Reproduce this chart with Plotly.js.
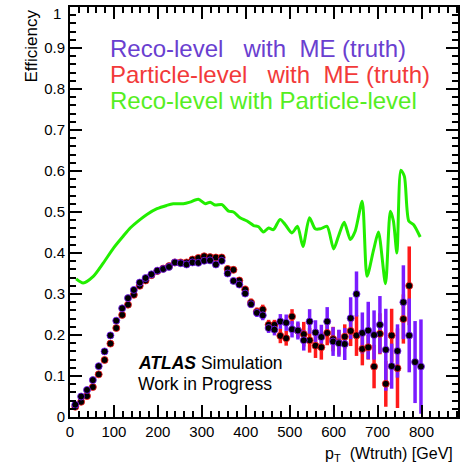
<!DOCTYPE html>
<html>
<head>
<meta charset="utf-8">
<script src="https://cdn.plot.ly/plotly-3.0.1.min.js"></script>
<style>html,body{margin:0;padding:0;background:#fff;}#chart{width:469px;height:471px;}</style>
</head>
<body>
<div id="chart"></div>
<script>
// Bin centres, p_T (Wtruth) [GeV]
const ptBins = [12.0, 25.3, 38.7, 52.0, 65.3, 78.7, 92.0, 105.3, 118.7, 132.0,
  145.3, 158.7, 172.0, 185.3, 198.7, 212.0, 225.3, 238.7, 252.0, 265.3,
  278.7, 292.0, 305.3, 318.7, 332.0, 345.3, 358.7, 372.0, 385.3, 398.7,
  412.0, 425.3, 438.7, 452.0, 465.3, 478.7, 492.0, 505.3, 518.7, 532.0,
  545.3, 558.7, 572.0, 585.3, 598.7, 612.0, 625.3, 638.7, 652.0, 665.3,
  678.7, 692.0, 705.3, 718.7, 732.0, 745.3, 758.7, 772.0, 785.3, 798.7];

// Reco-level with ME (truth)
const recoEff = [0.030, 0.050, 0.066, 0.090, 0.124, 0.160, 0.199, 0.235, 0.265, 0.290,
  0.310, 0.328, 0.339, 0.348, 0.357, 0.361, 0.366, 0.377, 0.375, 0.372,
  0.377, 0.376, 0.381, 0.382, 0.372, 0.381, 0.350, 0.332, 0.323, 0.301,
  0.275, 0.254, 0.248, 0.217, 0.213, 0.233, 0.230, 0.214, 0.211, 0.187,
  0.233, 0.206, 0.195, 0.233, 0.184, 0.180, 0.178, 0.241, 0.300, 0.205,
  0.211, 0.200, 0.225, 0.164, 0.124, 0.161, 0.280, 0.199, 0.134, 0.123];
const recoErr = [0.004, 0.004, 0.004, 0.004, 0.004, 0.004, 0.004, 0.004, 0.004, 0.004,
  0.004, 0.004, 0.004, 0.005, 0.005, 0.005, 0.005, 0.005, 0.005, 0.005,
  0.005, 0.005, 0.005, 0.005, 0.005, 0.005, 0.007, 0.007, 0.007, 0.007,
  0.008, 0.010, 0.012, 0.012, 0.014, 0.018, 0.020, 0.020, 0.022, 0.025,
  0.030, 0.030, 0.030, 0.035, 0.035, 0.033, 0.039, 0.051, 0.055, 0.050,
  0.070, 0.060, 0.070, 0.100, 0.055, 0.065, 0.090, 0.090, 0.100, 0.115];

// Particle-level with ME (truth)
const partEff = [0.025, 0.037, 0.051, 0.073, 0.104, 0.139, 0.179, 0.217, 0.249, 0.274,
  0.298, 0.320, 0.333, 0.346, 0.356, 0.362, 0.368, 0.377, 0.377, 0.377,
  0.384, 0.388, 0.392, 0.390, 0.389, 0.389, 0.361, 0.359, 0.333, 0.311,
  0.279, 0.257, 0.262, 0.225, 0.225, 0.198, 0.192, 0.245, 0.211, 0.202,
  0.187, 0.174, 0.170, 0.205, 0.190, 0.182, 0.196, 0.210, 0.199, 0.166,
  0.170, 0.123, 0.203, 0.081, 0.199, 0.119, 0.239, 0.320, null, null];
const partErr = [0.004, 0.004, 0.004, 0.004, 0.004, 0.004, 0.004, 0.004, 0.004, 0.004,
  0.004, 0.004, 0.004, 0.004, 0.004, 0.004, 0.004, 0.004, 0.004, 0.004,
  0.004, 0.004, 0.004, 0.004, 0.004, 0.004, 0.008, 0.008, 0.008, 0.009,
  0.010, 0.010, 0.012, 0.012, 0.012, 0.018, 0.018, 0.018, 0.018, 0.030,
  0.030, 0.030, 0.030, 0.030, 0.030, 0.030, 0.030, 0.037, 0.050, 0.040,
  0.030, 0.053, 0.050, 0.056, 0.065, 0.097, 0.060, 0.096, 0, 0];

// Reco-level with Particle-level (smooth curve)
const matchPt = [14, 30, 53, 76, 99, 121, 137, 160, 175, 198, 220, 235, 258, 273, 292,
  308, 319, 330, 346, 361, 372, 387, 403, 418, 429, 440, 452, 463, 478, 490,
  505, 518, 530, 545, 558, 570, 585, 600, 611, 624, 638, 649, 665, 676, 691,
  702, 718, 729, 736, 744, 753, 761, 771, 782, 797];
const matchEff = [0.337, 0.327, 0.343, 0.376, 0.412, 0.441, 0.461, 0.482, 0.494, 0.508,
  0.516, 0.520, 0.520, 0.524, 0.531, 0.520, 0.524, 0.517, 0.518, 0.502,
  0.500, 0.486, 0.478, 0.467, 0.464, 0.451, 0.461, 0.457, 0.482, 0.469,
  0.449, 0.465, 0.416, 0.486, 0.459, 0.459, 0.465, 0.410, 0.441, 0.475,
  0.433, 0.453, 0.526, 0.343, 0.408, 0.451, 0.325, 0.502, 0.478, 0.400,
  0.602, 0.587, 0.478, 0.469, 0.439];

// Axis tick labels
const yTickVals = [0, 0.1, 0.2, 0.3, 0.4, 0.5, 0.6, 0.7, 0.8, 0.9];
const yTickText = ['0', '0.1', '0.2', '0.3', '0.4', '0.5', '0.6', '0.7', '0.8', '0.9'];
const yTopLabel = '1';

const legendLines = ["Reco-level\u00a0\u00a0\u00a0with\u00a0\u00a0ME (truth)",
  "Particle-level\u00a0\u00a0\u00a0with\u00a0\u00a0ME (truth)",
  "Reco-level with Particle-level"];

const PURPLE = '#7a1cff', RED = '#ff1a1a', GREEN = '#22ee00';
const PURPLE_TXT = '#6a3fd0', RED_TXT = '#f23a3a', GREEN_TXT = '#55ee22';
const FONT = 'Liberation Sans, Arial, Helvetica, sans-serif';

function errTrace(y, e, col) {
  return {x: ptBins, y: y, type: 'scatter', mode: 'markers',
    marker: {size: 1, color: 'rgba(0,0,0,0)'},
    error_y: {type: 'data', array: e, visible: true, color: col, thickness: 3.5, width: 0},
    hoverinfo: 'skip', cliponaxis: true};
}
function markTrace(y, col) {
  return {x: ptBins, y: y, type: 'scatter', mode: 'markers',
    marker: {size: 7, color: 'black', line: {color: col, width: 0.8}}, cliponaxis: true};
}

const traces = [
  {x: matchPt, y: matchEff, type: 'scatter', mode: 'lines',
   line: {color: GREEN, width: 3, shape: 'spline', smoothing: 0.7}},
  errTrace(partEff, partErr, RED),
  errTrace(recoEff, recoErr, PURPLE),
  markTrace(partEff, RED),
  markTrace(recoEff, PURPLE)
];

const axisCommon = {
  ticks: 'inside', ticklen: 12, tickwidth: 2, tickcolor: 'black',
  showline: true, linewidth: 2, linecolor: 'black', mirror: 'ticks',
  showgrid: false, zeroline: false,
  tickfont: {family: FONT, size: 15, color: 'black'}
};

const layout = {
  width: 469, height: 471,
  margin: {l: 70, r: 11, t: 7, b: 54},
  paper_bgcolor: 'white', plot_bgcolor: 'white', showlegend: false,
  xaxis: Object.assign({}, axisCommon, {range: [0, 883], tick0: 0, dtick: 100,
    minor: {ticks: 'inside', ticklen: 6, dtick: 20, tickwidth: 2, tickcolor: 'black'}}),
  yaxis: Object.assign({}, axisCommon, {range: [0, 1], tickmode: 'array',
    tickvals: yTickVals, ticktext: yTickText,
    minor: {ticks: 'inside', ticklen: 6, tickmode: 'linear', tick0: 0, dtick: 0.02, tickwidth: 2, tickcolor: 'black'}}),
  annotations: [
    {text: yTopLabel, xref: 'paper', yref: 'paper', x: -0.018, y: 0.985, xanchor: 'right', yanchor: 'middle',
     showarrow: false, font: {family: FONT, size: 15, color: 'black'}},
    {text: legendLines[0], xref: 'paper', yref: 'paper', x: 0.098, y: 0.899, xanchor: 'left', yanchor: 'middle',
     showarrow: false, font: {family: FONT, size: 24, color: PURPLE_TXT}},
    {text: legendLines[1], xref: 'paper', yref: 'paper', x: 0.098, y: 0.835, xanchor: 'left', yanchor: 'middle',
     showarrow: false, font: {family: FONT, size: 24, color: RED_TXT}},
    {text: legendLines[2], xref: 'paper', yref: 'paper', x: 0.098, y: 0.772, xanchor: 'left', yanchor: 'middle',
     showarrow: false, font: {family: FONT, size: 24, color: GREEN_TXT}},
    {text: '<b><i>ATLAS</i></b> Simulation', xref: 'paper', yref: 'paper', x: 0.170, y: 0.131,
     xanchor: 'left', yanchor: 'middle', showarrow: false, font: {family: FONT, size: 17.5, color: 'black'}},
    {text: 'Work in Progress', xref: 'paper', yref: 'paper', x: 0.170, y: 0.081,
     xanchor: 'left', yanchor: 'middle', showarrow: false, font: {family: FONT, size: 17.5, color: 'black'}},
    {text: 'Efficiency', xref: 'paper', yref: 'paper', x: -0.100, y: 0.998, textangle: -90,
     xanchor: 'center', yanchor: 'top', showarrow: false, font: {family: FONT, size: 17, color: 'black'}},
    {text: 'p<sub>T</sub>\u00a0\u00a0(Wtruth) [GeV]', xref: 'paper', yref: 'paper', x: 0.992, y: -0.0915,
     xanchor: 'right', yanchor: 'middle', showarrow: false, font: {family: FONT, size: 16, color: 'black'}}
  ]
};

Plotly.newPlot('chart', traces, layout, {staticPlot: true, displayModeBar: false});
</script>
</body>
</html>
